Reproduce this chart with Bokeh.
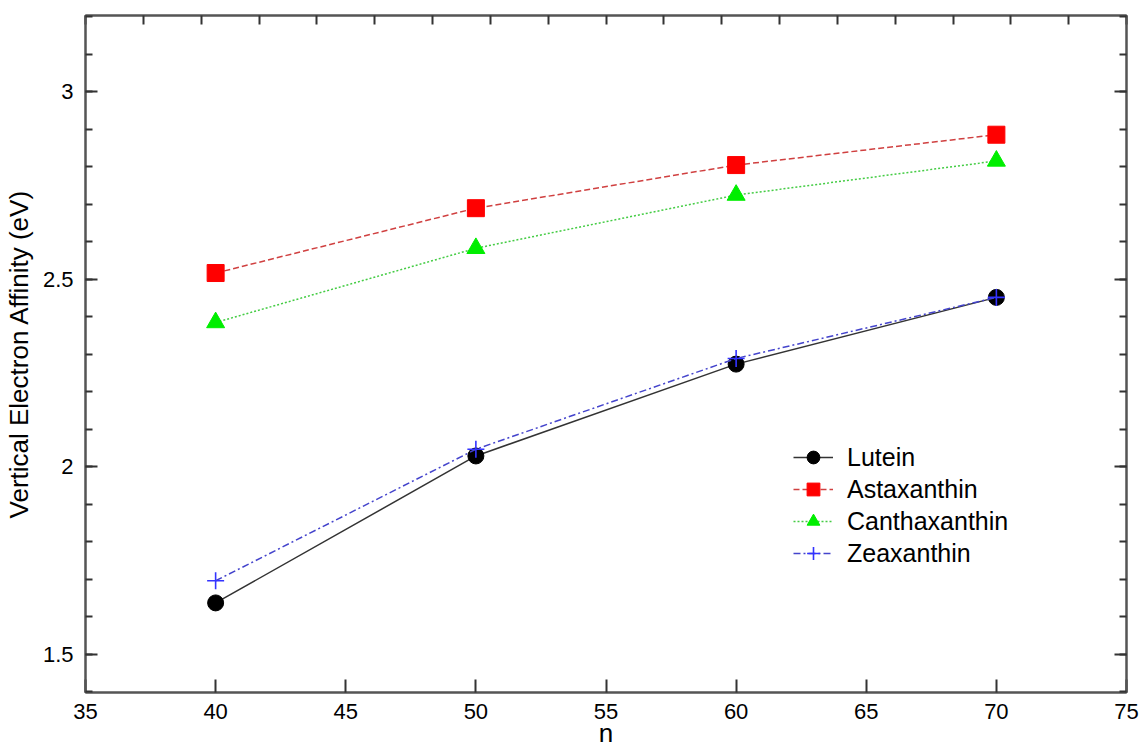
from bokeh.plotting import figure
from bokeh.models import (Range1d, LinearAxis, SingleIntervalTicker, FixedTicker,
                          CustomJSTickFormatter)
from bokeh.embed import file_html
from bokeh.resources import INLINE

# chain length n and vertical electron affinities (eV)
n_values = [40, 50, 60, 70]
lutein = [1.637, 2.029, 2.274, 2.452]
astaxanthin = [2.517, 2.690, 2.805, 2.886]
canthaxanthin = [2.385, 2.583, 2.725, 2.816]
zeaxanthin = [1.696, 2.047, 2.289, 2.452]

y_tick_values = [1.5, 2.0, 2.5, 3.0]
y_tick_labels = ["1.5", "2", "2.5", "3"]

FONT = "Liberation Sans"
AXIS_COLOR = "#555555"
TICK_COLOR = "#333333"

p = figure(frame_width=1041, frame_height=677,
           min_border_left=85, min_border_right=14,
           min_border_top=15, min_border_bottom=59,
           x_range=Range1d(35, 75), y_range=Range1d(1.398, 3.204),
           output_backend="svg", toolbar_location=None,
           x_axis_location=None, y_axis_location=None)
p.grid.visible = False
p.outline_line_color = AXIS_COLOR
p.outline_line_width = 2
p.background_fill_color = "white"
p.border_fill_color = "white"

blank = CustomJSTickFormatter(code="return ''")


def style_axis(ax, minor=True, labels=True):
    ax.axis_line_color = AXIS_COLOR
    ax.axis_line_width = 2
    ax.major_tick_line_color = TICK_COLOR
    ax.major_tick_line_width = 2
    ax.major_tick_out = 0
    ax.minor_tick_out = 0
    ax.minor_tick_in = 7 if minor else 0
    ax.minor_tick_line_color = TICK_COLOR if minor else None
    ax.minor_tick_line_width = 2
    if labels:
        ax.major_label_text_font = FONT
        ax.major_label_text_font_size = "22px"
        ax.major_label_text_color = "black"
    else:
        ax.formatter = blank
        ax.major_label_standoff = 0


# bottom axis
xb = LinearAxis(ticker=SingleIntervalTicker(interval=5, num_minor_ticks=0),
                axis_label="n")
style_axis(xb, minor=False)
xb.major_tick_in = 13
xb.major_label_standoff = 11
xb.axis_label_text_font = FONT
xb.axis_label_text_font_size = "26px"
xb.axis_label_text_font_style = "normal"
xb.axis_label_text_color = "black"
xb.axis_label_standoff = -4
p.add_layout(xb, "below")

# left axis
yl = LinearAxis(ticker=SingleIntervalTicker(interval=0.5, num_minor_ticks=5),
                axis_label="Vertical Electron Affinity (eV)")
style_axis(yl)
yl.major_tick_in = 12
yl.major_label_standoff = 12
yl.major_label_overrides = {v: s for v, s in zip(y_tick_values, y_tick_labels)}
yl.axis_label_text_font = FONT
yl.axis_label_text_font_size = "26px"
yl.axis_label_text_font_style = "normal"
yl.axis_label_text_color = "black"
yl.axis_label_standoff = 6
p.add_layout(yl, "left")

# right axis, ticks only
yr = LinearAxis(ticker=SingleIntervalTicker(interval=0.5, num_minor_ticks=5))
style_axis(yr, labels=False)
yr.major_tick_in = 12
p.add_layout(yr, "right")

# top axis, evenly divided ticks only
p.extra_x_ranges = {"top": Range1d(0, 18)}
xt = LinearAxis(x_range_name="top", ticker=FixedTicker(ticks=list(range(19))))
style_axis(xt, minor=False, labels=False)
xt.major_tick_in = 9
p.add_layout(xt, "above")

series = [
    ("Lutein", lutein, "#333333", "solid", "circle", "black", 16),
    ("Astaxanthin", astaxanthin, "#d04040", "6 3", "square", "#ff0000", 17),
    ("Canthaxanthin", canthaxanthin, "#44cc44", "2 2", "triangle", "#00ee00", 18),
    ("Zeaxanthin", zeaxanthin, "#4444cc", "7 3 2 3", "cross", "#3333ff", 17),
]

for name, ys, lc, dash, marker, mc, size in series:
    p.line(n_values, ys, line_color=lc, line_width=1.5, line_dash=dash,
           legend_label=name)
    if marker == "cross":
        p.scatter(n_values, ys, marker=marker, size=size, line_color=mc,
                  line_width=1.6, legend_label=name)
    else:
        p.scatter(n_values, ys, marker=marker, size=size, fill_color=mc,
                  line_color=mc, line_width=1, legend_label=name)

lg = p.legend[0]
lg.location = (708, 123)
lg.border_line_color = None
lg.background_fill_alpha = 0
lg.padding = 0
lg.margin = 0
lg.spacing = 0
lg.glyph_width = 40
lg.glyph_height = 32
lg.label_height = 32
lg.label_standoff = 14
lg.label_text_font = FONT
lg.label_text_font_size = "25px"
lg.label_text_color = "black"

open("out.html", "w").write(file_html(p, INLINE))
